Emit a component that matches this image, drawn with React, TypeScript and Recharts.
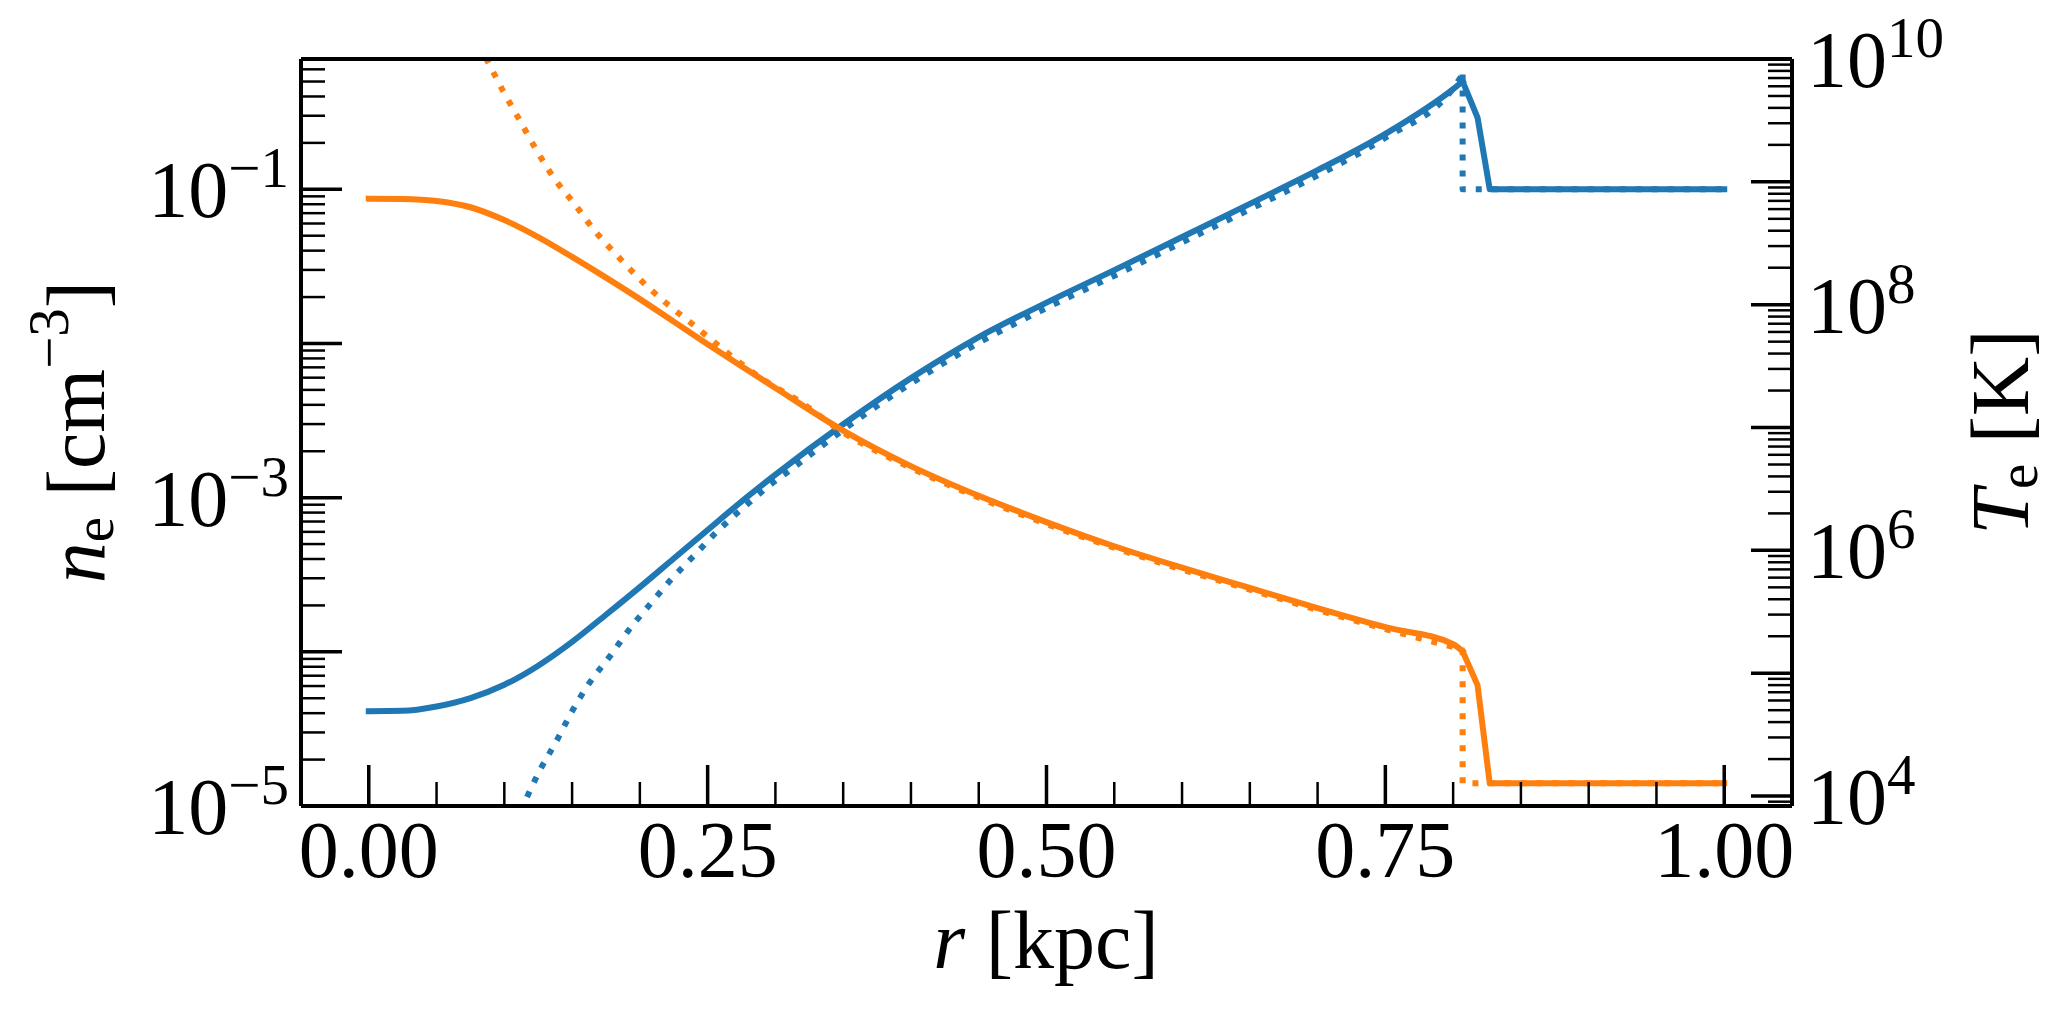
import React from 'react';
import { LineChart, Line, XAxis, YAxis } from 'recharts';

// radius grid of the simulated (solid) profiles [kpc]
const rGrid = [
  0, 0.025, 0.05, 0.075, 0.1, 0.125, 0.15, 0.175, 0.2, 0.225, 0.25, 0.275, 0.3, 0.35, 0.4,
  0.45, 0.5, 0.55, 0.6, 0.65, 0.7, 0.75, 0.8, 0.807, 0.818, 0.827, 0.85, 0.9, 0.95, 1.0,
];
// electron density, solid [cm^-3]
const neSolid = [
  4.12e-5, 4.14e-5, 4.42e-5, 5.01e-5, 6.11e-5, 8.13e-5, 1.16e-4, 1.74e-4, 2.63e-4, 4.03e-4, 6.17e-4,
  9.44e-4, 1.41e-3, 2.99e-3, 5.96e-3, 1.1e-2, 1.84e-2, 2.99e-2, 4.9e-2, 8.04e-2, 0.133, 0.229,
  0.447, 0.501, 0.292, 0.1, 0.1, 0.1, 0.1, 0.1,
];
// electron temperature, solid [K]
const TeSolid = [
  7.3e8, 7.26e8, 6.98e8, 6.21e8, 4.88e8, 3.55e8, 2.45e8, 1.66e8, 1.11e8, 7.28e7, 4.76e7, 3.15e7,
  2.1e7, 9.44e6, 4.85e6, 2.78e6, 1.7e6, 1.08e6, 7.23e5, 4.95e5, 3.39e5, 2.37e5, 1.72e5, 1.51e5,
  8.0e4, 1.27e4, 1.27e4, 1.27e4, 1.27e4, 1.27e4,
];

// analytic (dotted) density profile
const rNeDotted = [
  0.107, 0.115, 0.126, 0.139, 0.15, 0.163, 0.178, 0.192, 0.207, 0.223, 0.24, 0.257, 0.275, 0.293,
  0.313, 0.35, 0.4, 0.45, 0.5, 0.55, 0.6, 0.65, 0.7, 0.75, 0.8, 0.807, 0.807, 1.0,
];
const neDotted = [
  7.4e-6, 1.06e-5, 1.69e-5, 2.69e-5, 4.12e-5, 6.32e-5, 9.38e-5, 1.39e-4, 2.01e-4, 2.94e-4, 4.21e-4,
  6.03e-4, 8.41e-4, 1.15e-3, 1.56e-3, 2.75e-3, 5.5e-3, 1.01e-2, 1.7e-2, 2.75e-2, 4.52e-2, 7.41e-2,
  0.123, 0.216, 0.452, 0.556, 0.1, 0.1,
];

// analytic (dotted) temperature profile
const rTeDotted = [
  0.075, 0.087, 0.099, 0.112, 0.124, 0.137, 0.152, 0.167, 0.183, 0.2, 0.218, 0.238, 0.256, 0.275,
  0.295, 0.316, 0.35, 0.4, 0.45, 0.5, 0.55, 0.6, 0.65, 0.7, 0.75, 0.8, 0.807, 0.807, 1.0,
];
const TeDotted = [
  1.73e10, 9.9e9, 5.51e9, 3.08e9, 1.79e9, 1.06e9, 6.56e8, 3.96e8, 2.53e8, 1.61e8, 1.06e8, 7.06e7,
  4.84e7, 3.29e7, 2.3e7, 1.68e7, 9.12e6, 4.69e6, 2.69e6, 1.64e6, 1.05e6, 6.98e5, 4.79e5, 3.27e5,
  2.29e5, 1.64e5, 1.57e5, 1.27e4, 1.27e4,
];

const R_SHOCK = 0.807;

// axes
const xTicks = [
  0, 0.05, 0.1, 0.15, 0.2, 0.25, 0.3, 0.35, 0.4, 0.45, 0.5, 0.55, 0.6, 0.65, 0.7, 0.75, 0.8, 0.85,
  0.9, 0.95, 1.0,
];
const xMajor = [0, 0.25, 0.5, 0.75, 1.0];
const xLabels = ['0.00', '0.25', '0.50', '0.75', '1.00'];
const neDecades = [-5, -4, -3, -2, -1];
const neLabelExp = [-5, -3, -1];
const TeDecades = [4, 5, 6, 7, 8, 9, 10];
const TeLabelExp = [4, 6, 8, 10];

const NE_DOMAIN = [1e-5, 0.7];
const TE_DOMAIN = [8.3e3, 1e10];

const buildLogTicks = (decades: number[], lo: number, hi: number) => {
  const out: number[] = [];
  for (let d = decades[0] - 1; d <= decades[decades.length - 1]; d++) {
    for (let k = 1; k <= 9; k++) {
      const v = k * Math.pow(10, d);
      if (v >= lo * 0.9999 && v <= hi * 0.98) out.push(v);
    }
  }
  if (!out.includes(hi) && decades.some((d) => Math.pow(10, d) === hi)) out.push(hi);
  return out;
};
const neTicks = buildLogTicks(neDecades, NE_DOMAIN[0], NE_DOMAIN[1]);
const TeTicks = buildLogTicks(TeDecades, TE_DOMAIN[0], TE_DOMAIN[1]);

// smooth part (monotone) up to the shock, jump + ambient part drawn straight
const solidRows = rGrid.map((r, i) => ({ r, ne: neSolid[i], Te: TeSolid[i] }));
const solidCut = rGrid.indexOf(R_SHOCK);
const solidInner = solidRows.slice(0, solidCut + 1);
const solidOuter = solidRows.slice(solidCut);

const neDottedRows = rNeDotted.map((r, i) => ({ r, ne: neDotted[i] }));
const neCut = rNeDotted.indexOf(R_SHOCK);
const TeDottedRows = rTeDotted.map((r, i) => ({ r, Te: TeDotted[i] }));
const TeCut = rTeDotted.indexOf(R_SHOCK);

const FONT = '"Liberation Serif", "Times New Roman", Times, serif';
const BLUE = '#1f77b4';
const ORANGE = '#ff7f0e';
const MAJOR_LEN = 41;
const MINOR_LEN = 24;
const MAJOR_W = 3.5;
const MINOR_W = 2.5;
const FS = 80;
const FS_SUP = 57;
const FS_TITLE = 82;

const isDecade = (v: number) => {
  const lg = Math.log10(v);
  return Math.abs(lg - Math.round(lg)) < 1e-6;
};

const supText = (exp: number) => (exp < 0 ? `\u2212${-exp}` : `${exp}`);

const LeftTick = (props: any) => {
  const { x, y, payload } = props;
  const major = isDecade(payload.value);
  const exp = Math.round(Math.log10(payload.value));
  return (
    <g>
      <line x1={x} x2={x + (major ? MAJOR_LEN : MINOR_LEN)} y1={y} y2={y} stroke="#000" strokeWidth={major ? MAJOR_W : MINOR_W} />
      {major && neLabelExp.includes(exp) && (
        <text x={x - 12} y={y + 28} textAnchor="end" fontFamily={FONT} fontSize={FS} fill="#000">
          10<tspan dy={-30} fontSize={FS_SUP}>{supText(exp)}</tspan>
        </text>
      )}
    </g>
  );
};

const RightTick = (props: any) => {
  const { x, y, payload } = props;
  const major = isDecade(payload.value);
  const exp = Math.round(Math.log10(payload.value));
  return (
    <g>
      <line x1={x} x2={x - (major ? MAJOR_LEN : MINOR_LEN)} y1={y} y2={y} stroke="#000" strokeWidth={major ? MAJOR_W : MINOR_W} />
      {major && TeLabelExp.includes(exp) && (
        <text x={x + 15} y={y + 28} textAnchor="start" fontFamily={FONT} fontSize={FS} fill="#000">
          10<tspan dy={-30} fontSize={FS_SUP}>{supText(exp)}</tspan>
        </text>
      )}
    </g>
  );
};

const majorIndex = (v: number) => xMajor.findIndex((m) => Math.abs(m - v) < 1e-6);

const BottomTick = (props: any) => {
  const { x, y, payload } = props;
  const idx = majorIndex(payload.value);
  const major = idx >= 0;
  return (
    <g>
      <line x1={x} x2={x} y1={y} y2={y - (major ? MAJOR_LEN : MINOR_LEN)} stroke="#000" strokeWidth={major ? MAJOR_W : MINOR_W} />
      {major && (
        <text x={x} y={y + 71} textAnchor="middle" fontFamily={FONT} fontSize={FS} fill="#000">
          {xLabels[idx]}
        </text>
      )}
    </g>
  );
};

const TopTick = (props: any) => {
  const { x, y, payload } = props;
  const major = majorIndex(payload.value) >= 0;
  return (
    <line x1={x} x2={x} y1={y} y2={y + (major ? MAJOR_LEN : MINOR_LEN)} stroke="#000" strokeWidth={major ? MAJOR_W : MINOR_W} />
  );
};

const spine = { stroke: '#000', strokeWidth: 4 };

const seriesStyle = (color: string, dotted: boolean) => ({
  stroke: color,
  strokeWidth: 6,
  strokeLinejoin: 'round' as const,
  strokeLinecap: dotted ? ('butt' as const) : ('square' as const),
  strokeDasharray: dotted ? '6 10' : undefined,
  dot: false,
  activeDot: false,
  isAnimationActive: false,
});

export default function App() {
  return (
    <div style={{ position: 'relative', width: 2070, height: 1020 }}>
      <style>{'body { margin: 0; background: #fff; }'}</style>
      <LineChart width={2070} height={1020} margin={{ top: 58, right: 208, bottom: 154, left: 231 }}>
        <XAxis
          xAxisId="bottom"
          dataKey="r"
          type="number"
          domain={[-0.05, 1.05]}
          allowDataOverflow
          ticks={xTicks}
          interval={0}
          height={60}
          tickSize={0}
          tickMargin={0}
          axisLine={spine}
          tickLine={false}
          tick={BottomTick}
        />
        <XAxis
          xAxisId="top"
          orientation="top"
          type="number"
          domain={[-0.05, 1.05]}
          allowDataOverflow
          ticks={xTicks}
          interval={0}
          height={1}
          tickSize={0}
          tickMargin={0}
          axisLine={spine}
          tickLine={false}
          tick={TopTick}
        />
        <YAxis
          yAxisId="n"
          orientation="left"
          type="number"
          scale="log"
          domain={NE_DOMAIN}
          allowDataOverflow
          ticks={neTicks}
          interval={0}
          width={70}
          tickSize={0}
          tickMargin={0}
          axisLine={spine}
          tickLine={false}
          tick={LeftTick}
        />
        <YAxis
          yAxisId="T"
          orientation="right"
          type="number"
          scale="log"
          domain={TE_DOMAIN}
          allowDataOverflow
          ticks={TeTicks}
          interval={0}
          width={70}
          tickSize={0}
          tickMargin={0}
          axisLine={spine}
          tickLine={false}
          tick={RightTick}
        />
        {/* n_e (left axis) */}
        <Line xAxisId="bottom" yAxisId="n" data={solidInner} dataKey="ne" type="monotone" {...seriesStyle(BLUE, false)} />
        <Line xAxisId="bottom" yAxisId="n" data={solidOuter} dataKey="ne" type="linear" {...seriesStyle(BLUE, false)} />
        <Line xAxisId="bottom" yAxisId="n" data={neDottedRows.slice(0, neCut + 1)} dataKey="ne" type="monotone" {...seriesStyle(BLUE, true)} />
        <Line xAxisId="bottom" yAxisId="n" data={neDottedRows.slice(neCut)} dataKey="ne" type="linear" {...seriesStyle(BLUE, true)} />
        {/* T_e (right axis) */}
        <Line xAxisId="bottom" yAxisId="T" data={solidInner} dataKey="Te" type="monotone" {...seriesStyle(ORANGE, false)} />
        <Line xAxisId="bottom" yAxisId="T" data={solidOuter} dataKey="Te" type="linear" {...seriesStyle(ORANGE, false)} />
        <Line xAxisId="bottom" yAxisId="T" data={TeDottedRows.slice(0, TeCut + 1)} dataKey="Te" type="monotone" {...seriesStyle(ORANGE, true)} />
        <Line xAxisId="bottom" yAxisId="T" data={TeDottedRows.slice(TeCut)} dataKey="Te" type="linear" {...seriesStyle(ORANGE, true)} />
      </LineChart>
      <svg width={2070} height={1020} style={{ position: 'absolute', left: 0, top: 0, pointerEvents: 'none' }}>
        <text x={104} y={432} transform="rotate(-90, 104, 432)" textAnchor="middle" fontFamily={FONT} fontSize={FS_TITLE} fill="#000">
          <tspan fontStyle="italic">n</tspan>
          <tspan fontSize={FS_SUP} dy={9}>e</tspan>
          <tspan dy={-9}> [cm</tspan>
          <tspan fontSize={FS_SUP} dy={-36}>{'\u22123'}</tspan>
          <tspan dy={36}>]</tspan>
        </text>
        <text x={2028} y={432} transform="rotate(-90, 2028, 432)" textAnchor="middle" fontFamily={FONT} fontSize={FS_TITLE} fill="#000">
          <tspan fontStyle="italic">T</tspan>
          <tspan fontSize={FS_SUP} dy={9}>e</tspan>
          <tspan dy={-9}> [K]</tspan>
        </text>
        <text x={1046} y={968} textAnchor="middle" fontFamily={FONT} fontSize={FS_TITLE} fill="#000">
          <tspan fontStyle="italic">r</tspan> [kpc]
        </text>
      </svg>
    </div>
  );
}
